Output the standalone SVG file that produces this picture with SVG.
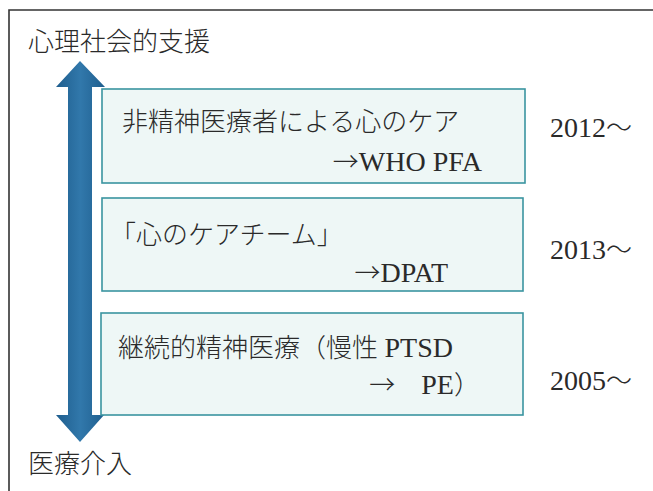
<svg xmlns="http://www.w3.org/2000/svg" width="653" height="491" viewBox="0 0 653 491">
<style>
.t{font-family:"Liberation Serif","Noto Sans CJK JP",serif;font-size:26px;font-weight:300;fill:#2a2a2a}
.l{font-size:28px;font-weight:400}
.j{font-family:"Noto Sans CJK JP",sans-serif}
.box{fill:#eef7f6;stroke:#3a94a0;stroke-width:1.6}
.frame{fill:none;stroke:#333;stroke-width:1.6}
</style>
<defs>
<linearGradient id="ag" x1="0" y1="0" x2="1" y2="0">
<stop offset="0" stop-color="#1f5e8e"/>
<stop offset="0.5" stop-color="#3178ab"/>
<stop offset="1" stop-color="#1f5e8e"/>
</linearGradient>
</defs>
<rect width="653" height="491" fill="#fff"/>
<path class="frame" d="M9,491 V10 H653"/>
<g id="label-top"><text class="t" x="28" y="51">心理社会的支援</text></g>
<g id="label-bottom"><text class="t" x="28" y="473">医療介入</text></g>
<g id="connectors">
<path d="M80,61 L105,87 L92,87 L92,415 L104,415 L80,442 L56,415 L68,415 L68,87 L56,87 Z" fill="url(#ag)"/>
</g>
<g id="box1">
<rect class="box" x="102" y="89" width="423" height="94"/>
<text class="t" x="122" y="131">非精神医療者による心のケア</text>
<text class="t" x="482" y="171" text-anchor="end"><tspan class="j">→</tspan><tspan class="l">WHO PFA</tspan></text>
</g>
<g id="box2">
<rect class="box" x="102" y="198" width="421" height="93"/>
<text class="t" x="110" y="244">「心のケアチーム」</text>
<text class="t" x="448" y="282" text-anchor="end"><tspan class="j">→</tspan><tspan class="l">DPAT</tspan></text>
</g>
<g id="box3">
<rect class="box" x="101" y="313" width="422" height="102"/>
<text class="t" x="118" y="357">継続的精神医療（慢性 <tspan class="l">PTSD</tspan></text>
<text class="t" x="480" y="394" text-anchor="end"><tspan class="j">→　</tspan><tspan class="l">PE</tspan>）</text>
</g>
<g id="years">
<text class="t" x="550" y="137"><tspan class="l">2012</tspan>～</text>
<text class="t" x="550" y="259"><tspan class="l">2013</tspan>～</text>
<text class="t" x="550" y="390"><tspan class="l">2005</tspan>～</text>
</g>
</svg>
